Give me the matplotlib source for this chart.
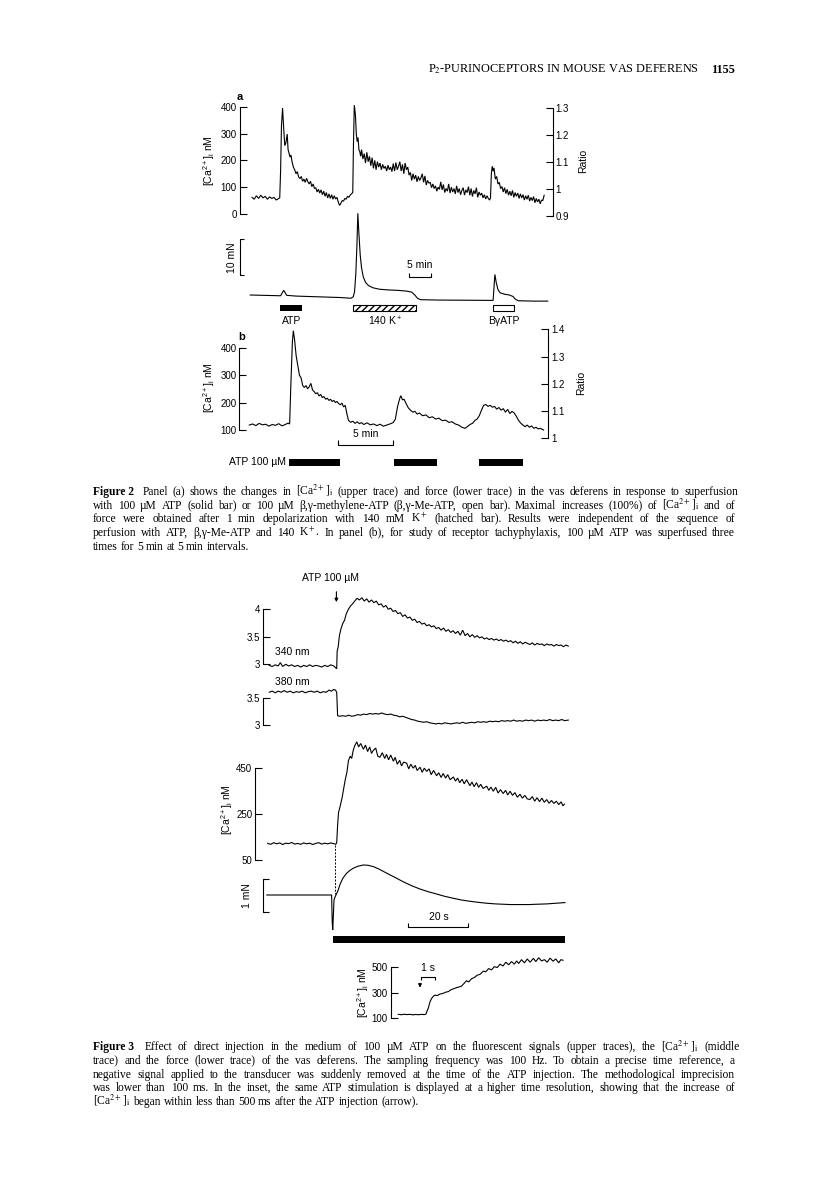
import matplotlib
matplotlib.use("Agg")
import matplotlib.pyplot as plt
from matplotlib.backends.backend_agg import get_hinting_flag

W, H = 816, 1200
SANS = ["Liberation Sans", "DejaVu Sans"]
SERIF = ["Liberation Serif", "DejaVu Serif"]

plt.rcParams["font.family"] = SANS
plt.rcParams["mathtext.fontset"] = "custom"
plt.rcParams["mathtext.rm"] = "Liberation Sans"
plt.rcParams["mathtext.it"] = "Liberation Sans:italic"
plt.rcParams["mathtext.bf"] = "Liberation Sans:bold"

CA_LABEL = r"[Ca$^{2+}$]$_\mathrm{i}$ nM"

# ---- Figure 2a: [Ca2+]i (nM) against time (min)
A_CA_T = [0.0, 0.5, 1.0, 1.5, 2.0, 2.5, 3.0, 3.5, 4.0, 4.5, 5.0, 5.5, 6.0, 6.3,
          6.5, 6.7, 6.95, 7.2, 7.45, 7.7, 8.0, 8.2, 8.45, 8.65, 8.85, 9.1, 9.4, 9.7,
          10.0, 10.3, 10.6, 10.9, 11.2, 11.5, 11.8, 12.1, 12.4, 12.7, 13.0, 13.3,
          13.6, 13.9, 14.2, 14.5, 14.8, 15.1, 15.4, 15.7, 16.0, 16.3, 16.6, 16.9,
          17.2, 17.5, 17.8, 18.1, 18.4, 18.7, 19.0, 19.3, 19.6, 19.9, 20.2, 20.5,
          20.8, 21.1, 21.4, 21.7, 22.0, 22.3, 22.6, 22.9, 23.05, 23.25, 23.5, 23.7,
          23.9, 24.1, 24.3, 24.5, 24.7, 24.9, 25.2, 25.5, 25.8, 26.1, 26.4, 26.7,
          27.0, 27.3, 27.6, 27.9, 28.2, 28.5, 28.8, 29.1, 29.4, 29.7, 30.0, 30.3,
          30.6, 30.9, 31.2, 31.5, 31.8, 32.1, 32.4, 32.7, 33.0, 33.3, 33.6, 33.9,
          34.2, 34.5, 34.8, 35.1, 35.4, 35.7, 36.0, 36.3, 36.6, 36.9, 37.2, 37.5,
          37.8, 38.1, 38.4, 38.7, 39.0, 39.3, 39.6, 39.9, 40.2, 40.5, 40.8, 41.1,
          41.4, 41.7, 42.0, 42.3, 42.6, 42.9, 43.2, 43.5, 43.8, 44.1, 44.4, 44.7,
          45.0, 45.3, 45.6, 45.9, 46.2, 46.5, 46.8, 47.1, 47.4, 47.7, 48.0, 48.3,
          48.6, 48.9, 49.2, 49.5, 49.8, 50.1, 50.4, 50.7, 51.0, 51.3, 51.6, 51.9,
          52.2, 52.5, 52.8, 53.1, 53.4, 53.7, 54.0, 54.2, 54.4, 54.6, 54.8, 55.0,
          55.3, 55.6, 55.9, 56.2, 56.5, 56.8, 57.1, 57.4, 57.7, 58.0, 58.3, 58.6,
          58.9, 59.2, 59.5, 59.8, 60.1, 60.4, 60.7, 61.0, 61.3, 61.6, 61.9, 62.2,
          62.5, 62.8, 63.1, 63.4, 63.7, 64.0, 64.3, 64.6, 64.9, 65.2, 65.5, 65.8,
          66.1, 66.4]
A_CA_V = [62, 55, 68, 58, 70, 60, 66, 55, 64, 58, 62, 52, 57, 60,
          160, 330, 395, 320, 255, 265, 298, 240, 225, 212, 220, 195, 175, 165,
          150, 158, 138, 132, 140, 122, 130, 118, 133, 120, 112, 122,
          102, 112, 95, 98, 82, 92, 78, 90, 72, 85, 66, 80,
          60, 75, 58, 72, 55, 68, 56, 62, 45, 32, 40, 50,
          48, 58, 55, 66, 62, 70, 75, 80, 250, 406, 370, 300,
          270, 285, 240, 232, 215, 240, 205, 225, 190, 230, 195, 215,
          180, 210, 170, 200, 165, 195, 175, 190, 165, 185, 170, 178,
          160, 182, 165, 175, 158, 188, 160, 192, 165, 178, 195, 160,
          185, 150, 190, 165, 175, 145, 155, 125, 150, 130, 145, 120,
          140, 125, 135, 150, 118, 142, 108, 125, 115, 118, 98, 112,
          95, 105, 85, 100, 92, 120, 90, 110, 80, 95, 85, 112,
          78, 100, 82, 95, 75, 105, 80, 95, 72, 88, 98, 70,
          90, 80, 102, 70, 95, 65, 88, 75, 98, 62, 82, 70,
          78, 60, 72, 56, 68, 58, 52, 60, 150, 178, 160, 172,
          130, 140, 112, 118, 95, 102, 82, 98, 76, 92, 70, 85,
          68, 88, 62, 80, 66, 78, 58, 75, 60, 72, 52, 68,
          55, 70, 48, 62, 50, 65, 42, 58, 45, 55, 38, 52,
          50, 70]

# ---- Figure 2a: force (mN above starting tone)
A_F_T = [-0.4, 6.0, 6.5, 7.2, 7.9, 10.0, 15.0, 20.0, 22.5, 23.0, 23.3, 23.6,
         23.85, 24.05, 24.3, 24.6, 24.9, 25.3, 25.8, 26.5, 27.5, 29.0, 31.0,
         33.0, 35.0, 36.3, 37.0, 37.6, 38.3, 42.0, 48.0, 54.8, 55.05, 55.2,
         55.5, 55.9, 56.4, 57.5, 58.5, 59.3, 59.9, 60.5, 64.0, 67.2]
A_F_V = [0.0, -0.2, -0.2, 1.3, -0.1, -0.3, -0.5, -0.7, -0.9, -0.5, 0.8, 6.0,
         14.0, 22.7, 17.0, 11.0, 7.5, 5.0, 3.5, 2.6, 2.0, 1.6, 1.4,
         1.3, 1.1, 0.8, 0.0, -0.9, -1.3, -1.4, -1.45, -1.5, 3.0, 5.7,
         3.5, 1.5, 0.6, 0.2, 0.0, -0.4, -1.2, -1.6, -1.7, -1.7]

A_BAR_START = [6.4, 23.0, 54.8]
A_BAR_END = [11.4, 37.3, 59.5]
A_BAR_LABELS = ["ATP", "140 K$^+$", "BγATP"]

# ---- Figure 2b: [Ca2+]i (nM) against time (min)
B_CA_T = [0.0, 0.3, 0.6, 0.9, 1.2, 1.5, 1.8, 2.1, 2.4, 2.7, 3.0, 3.3, 3.55, 3.7,
          3.8, 3.95, 4.04, 4.15, 4.3, 4.45, 4.6, 4.75, 4.9, 5.05, 5.2, 5.35, 5.5,
          5.65, 5.8, 5.95, 6.1, 6.25, 6.4, 6.55, 6.7, 6.85, 7.0, 7.15, 7.3, 7.45,
          7.6, 7.75, 7.9, 8.05, 8.2, 8.35, 8.5, 8.65, 8.8, 8.95, 9.1, 9.3, 9.5,
          9.7, 9.9, 10.1, 10.3, 10.5, 10.8, 11.1, 11.4, 11.7, 12.0, 12.3, 12.6,
          12.9, 13.2, 13.4, 13.6, 13.8, 13.9, 14.05, 14.2, 14.4, 14.6, 14.8, 15.0,
          15.2, 15.4, 15.6, 15.9, 16.2, 16.5, 16.8, 17.1, 17.4, 17.7, 18.0, 18.3,
          18.6, 18.9, 19.2, 19.5, 19.8, 20.0, 20.25, 20.5, 20.7, 20.9, 21.1, 21.3,
          21.5, 21.7, 21.9, 22.1, 22.3, 22.5, 22.7, 22.9, 23.1, 23.3, 23.5, 23.7,
          23.9, 24.1, 24.3, 24.5, 24.7, 24.9, 25.1, 25.3, 25.5, 25.7, 25.9, 26.1,
          26.3, 26.5, 26.7, 27.0]
B_CA_V = [118, 122, 116, 124, 119, 121, 114, 120, 117, 123, 115, 120, 125, 122,
          250, 420, 462, 430, 370, 335, 300, 290, 262, 255, 262, 250, 258,
          270, 246, 240, 232, 236, 224, 230, 218, 222, 212, 216, 208, 212,
          204, 208, 200, 204, 196, 192, 198, 184, 190, 160, 135, 128, 132,
          124, 130, 123, 127, 120, 126, 119, 122, 116, 121, 114, 118,
          122, 127, 140, 185, 215, 225, 210, 212, 195, 180, 172, 165,
          168, 158, 162, 152, 155, 145, 148, 140, 143, 134, 136, 128,
          130, 122, 118, 110, 106, 112, 120, 125, 135, 140, 152, 172,
          190, 193, 186, 190, 183, 186, 176, 182, 172, 178, 165, 175,
          160, 168, 162, 150, 135, 125, 118, 112, 118, 110, 115, 106,
          110, 104, 106, 100]

B_BAR_START = [3.64, 13.3, 21.1]
B_BAR_END = [8.32, 17.2, 25.1]

# ---- Figure 3: fluorescence at 340 and 380 nm against time (s)
F340_T = [-22.5, -21.5, -20.5, -19.5, -18.8, -18.0, -17.0, -16.0, -15.0, -14.0,
          -13.0, -12.0, -11.0, -10.0, -9.0, -8.0, -7.0, -6.0, -5.0, -4.0, -3.0,
          -2.0, -1.0, -0.4, 0.0, 0.15, 0.5, 0.9, 1.4, 2.0, 2.6, 3.2, 3.9, 4.6,
          5.3, 6.0, 6.8, 7.6, 8.4, 9.2, 10.0, 10.8, 11.6, 12.4, 13.2, 14.0, 14.8,
          15.6, 16.4, 17.2, 18.0, 18.8, 19.6, 20.4, 21.2, 22.0, 22.8, 23.6, 24.4,
          25.2, 26.0, 26.8, 27.6, 28.4, 29.2, 30.0, 30.8, 31.6, 32.4, 33.2, 34.0,
          34.8, 35.6, 36.4, 37.2, 38.0, 38.8, 39.6, 40.4, 41.2, 42.0, 42.8, 43.6,
          44.4, 45.2, 46.0, 46.8, 47.6, 48.4, 49.2, 50.0, 50.8, 51.6, 52.4, 53.2,
          54.0, 54.8, 55.6, 56.4, 57.2, 58.0, 58.8, 59.6, 60.4, 61.2, 62.0, 62.8,
          63.6, 64.4, 65.2, 66.0, 66.8, 67.6, 68.4, 69.2, 70.0, 70.8, 71.6, 72.4,
          73.2, 74.0, 74.8, 75.6, 76.4, 77.2]
F340_V = [2.98, 2.96, 2.99, 2.97, 3.03, 2.96, 3.0, 2.97, 2.99, 2.96,
          2.98, 2.95, 2.98, 2.96, 2.99, 2.96, 2.98, 2.97, 2.95, 2.98, 2.96,
          2.99, 2.97, 2.94, 2.92, 3.24, 3.32, 3.52, 3.64, 3.74, 3.8, 3.92, 4.0, 4.06,
          4.1, 4.15, 4.2, 4.17, 4.21, 4.15, 4.19, 4.13, 4.17, 4.12, 4.15, 4.08, 4.1,
          4.04, 4.07, 4.0, 4.02, 3.96, 3.98, 3.92, 3.94, 3.87, 3.9, 3.84, 3.86,
          3.8, 3.82, 3.76, 3.78, 3.73, 3.75, 3.7, 3.72, 3.68, 3.7, 3.65, 3.67,
          3.62, 3.66, 3.6, 3.63, 3.58, 3.61, 3.56, 3.6, 3.53, 3.62, 3.52, 3.56,
          3.5, 3.54, 3.49, 3.52, 3.48, 3.5, 3.46, 3.48, 3.45, 3.47, 3.44, 3.46,
          3.43, 3.45, 3.42, 3.44, 3.41, 3.43, 3.39, 3.42, 3.38, 3.41, 3.37, 3.4,
          3.38, 3.36, 3.39, 3.35, 3.38, 3.36, 3.37, 3.34, 3.37, 3.35, 3.36, 3.33,
          3.36, 3.34, 3.35, 3.32, 3.35, 3.33]

F380_T = [-22.5, -21.5, -20.5, -19.5, -18.5, -17.5, -16.5, -15.5, -14.5, -13.5,
          -12.5, -11.5, -10.5, -9.5, -8.5, -7.5, -6.5, -5.5, -4.5, -3.5, -2.5,
          -1.8, -1.0, -0.4, 0.0, 0.3, 1.0, 2.0, 3.0, 4.0, 5.0, 6.0, 7.0, 8.0, 9.0,
          10.0, 11.0, 12.0, 13.0, 14.0, 15.0, 16.0, 17.0, 18.0, 19.0, 20.0, 21.0,
          22.0, 23.0, 24.0, 25.0, 26.0, 27.0, 28.0, 29.0, 30.0, 31.0, 32.0, 33.0,
          34.0, 35.0, 36.0, 37.0, 38.0, 39.0, 40.0, 41.0, 42.0, 43.0, 44.0, 45.0,
          46.0, 47.0, 48.0, 49.0, 50.0, 51.0, 52.0, 53.0, 54.0, 55.0, 56.0, 57.0,
          58.0, 59.0, 60.0, 61.0, 62.0, 63.0, 64.0, 65.0, 66.0, 67.0, 68.0, 69.0,
          70.0, 71.0, 72.0, 73.0, 74.0, 75.0, 76.0, 77.2]
F380_V = [3.6, 3.62, 3.59, 3.62, 3.6, 3.63, 3.6, 3.62, 3.59, 3.61,
          3.6, 3.62, 3.59, 3.61, 3.62, 3.6, 3.62, 3.59, 3.61, 3.6, 3.64,
          3.62, 3.65, 3.64, 3.6, 3.17, 3.16, 3.17, 3.16, 3.18, 3.16, 3.17, 3.19, 3.18, 3.2,
          3.19, 3.21, 3.2, 3.21, 3.2, 3.22, 3.2, 3.19, 3.2, 3.18, 3.17, 3.15,
          3.16, 3.14, 3.12, 3.1, 3.09, 3.07, 3.06, 3.05, 3.06, 3.04, 3.03, 3.02,
          3.03, 3.02, 3.04, 3.03, 3.02, 3.03, 3.04, 3.03, 3.05, 3.03, 3.04, 3.05,
          3.04, 3.06, 3.05, 3.06, 3.05, 3.07, 3.06, 3.07, 3.06, 3.08, 3.07, 3.08,
          3.07, 3.09, 3.07, 3.08, 3.07, 3.09, 3.08, 3.09, 3.07, 3.09, 3.08, 3.09,
          3.08, 3.1, 3.08, 3.09, 3.08, 3.1, 3.08, 3.09]

# ---- Figure 3: [Ca2+]i (nM) against time (s)
F3_CA_T = [-23.0, -22.0, -21.0, -20.0, -19.0, -18.0, -17.0, -16.0, -15.0, -14.0,
           -13.0, -12.0, -11.0, -10.0, -9.0, -8.0, -7.0, -6.0, -5.0, -4.0, -3.0,
           -2.0, -1.0, -0.3, 0.0, 0.3, 0.6, 1.1, 1.8, 2.4, 2.8, 3.4, 3.9, 4.5, 5.0,
           5.5, 6.0, 6.7, 7.3, 8.0, 8.9, 9.6, 10.3, 11.0, 11.6, 12.2, 13.0, 13.7,
           14.4, 15.2, 16.0, 16.6, 17.3, 18.0, 18.9, 19.5, 20.2, 21.0, 21.6, 22.3,
           23.3, 24.0, 24.7, 25.5, 26.2, 26.8, 27.8, 28.5, 29.2, 30.0, 30.8, 31.5,
           32.3, 33.3, 34.0, 34.8, 35.5, 36.3, 37.0, 37.8, 38.9, 39.6, 40.3, 41.0,
           41.8, 42.5, 43.3, 44.4, 45.1, 45.8, 46.6, 47.3, 48.0, 48.8, 50.0, 50.7,
           51.4, 52.2, 53.0, 53.8, 54.6, 55.5, 56.3, 57.0, 57.8, 58.6, 59.4, 60.2,
           61.1, 61.9, 62.7, 63.5, 64.4, 65.2, 66.0, 66.8, 67.6, 68.4, 69.2, 70.0,
           70.8, 71.6, 72.4, 73.2, 74.0, 74.8, 75.4, 75.9]
F3_CA_V = [122, 118, 125, 120, 124, 117, 123, 121, 126, 119,
           122, 118, 124, 120, 123, 117, 122, 125, 119, 123, 120,
           124, 121, 118, 125, 200, 255, 280, 320, 365, 395, 430, 480, 500, 490,
           525, 545, 562, 540, 555, 530, 548, 520, 540, 512, 525, 535, 500,
           495, 515, 490, 508, 484, 505, 478, 495, 465, 482, 458, 474,
           470, 445, 465, 448, 460, 438, 452, 430, 448, 434, 445, 420,
           438, 415, 428, 408, 425, 405, 420, 398, 410, 392, 405, 385,
           400, 380, 398, 372, 388, 368, 385, 365, 378, 360, 370, 352,
           366, 348, 365, 340, 355, 338, 352, 332, 348, 330, 342, 322,
           335, 318, 330, 315, 312, 325, 305, 320, 303, 318, 300, 312,
           296, 308, 295, 305, 290, 302, 285, 292]

# ---- Figure 3: force (mN above resting tone) against time (s)
F3_F_T = [-23.3, -1.7, -1.5, -1.33, -1.1, -0.9, -0.5, 0.0, 0.5, 1.1, 2.0, 3.3,
          4.5, 5.5, 7.0, 8.9, 10.5, 12.2, 14.0, 16.7, 19.5, 22.2, 25.0, 27.8,
          30.5, 33.3, 36.0, 38.9, 41.5, 44.4, 47.0, 50.0, 53.0, 55.5, 58.0, 61.1,
          64.0, 66.7, 70.0, 73.0, 76.1]
F3_F_V = [0.0, 0.0, -0.8, -1.06, -0.6, -0.15, -0.05, 0.05, 0.15, 0.32, 0.5, 0.66,
          0.75, 0.81, 0.87, 0.91, 0.9, 0.86, 0.79, 0.66, 0.53, 0.40, 0.28, 0.18,
          0.10, 0.03, -0.04, -0.10, -0.15, -0.19, -0.22, -0.25, -0.27, -0.28, -0.29, -0.29,
          -0.29, -0.28, -0.27, -0.25, -0.23]

F3_BAR_START = -1.33
F3_BAR_END = 76.1

# ---- Figure 3 inset: [Ca2+]i (nM) against time (s)
INSET_T = [-1.52, -1.3, -1.1, -0.9, -0.7, -0.5, -0.3, -0.1, 0.1, 0.3, 0.42, 0.5,
           0.58, 0.7, 0.82, 0.95, 1.05, 1.2, 1.4, 1.6, 1.8, 2.0, 2.1, 2.3, 2.5,
           2.7, 2.9, 3.05, 3.26, 3.4, 3.6, 3.8, 4.0, 4.2, 4.43, 4.6, 4.8, 5.0,
           5.2, 5.4, 5.6, 5.8, 6.0, 6.2, 6.4, 6.6, 6.76, 6.9, 7.1, 7.3, 7.5, 7.7,
           7.93, 8.1, 8.3, 8.5, 8.7, 8.9, 9.09, 9.3, 9.5, 9.7, 9.85, 10.0]
INSET_V = [131, 128, 132, 129, 131, 127, 130, 128, 131, 129, 133, 160,
           180, 230, 257, 275, 282, 278, 290, 295, 305, 310, 320, 330, 338,
           345, 352, 370, 395, 385, 410, 420, 438, 445, 470, 465, 490, 480,
           505, 498, 525, 510, 540, 520, 545, 525, 550, 530, 560, 535, 565, 540,
           570, 545, 575, 550, 560, 540, 572, 548, 565, 535, 560, 555]

CAPTION_2 = [
    r"Panel (a) shows the changes in [Ca$^{2+}$]$_\mathrm{i}$ (upper trace) and force (lower trace) in the vas deferens in response to superfusion",
    r"with 100 µM ATP (solid bar) or 100 µM β,γ-methylene-ATP (β,γ-Me-ATP, open bar). Maximal increases (100%) of [Ca$^{2+}$]$_\mathrm{i}$ and of",
    r"force were obtained after 1 min depolarization with 140 mM K$^+$ (hatched bar). Results were independent of the sequence of",
    r"perfusion with ATP, β,γ-Me-ATP and 140 K$^+$. In panel (b), for study of receptor tachyphylaxis, 100 µM ATP was superfused three",
    r"times for 5 min at 5 min intervals.",
]
CAPTION_3 = [
    r"Effect of direct injection in the medium of 100 µM ATP on the fluorescent signals (upper traces), the [Ca$^{2+}$]$_\mathrm{i}$ (middle",
    r"trace) and the force (lower trace) of the vas deferens. The sampling frequency was 100 Hz. To obtain a precise time reference, a",
    r"negative signal applied to the transducer was suddenly removed at the time of the ATP injection. The methodological imprecision",
    r"was lower than 100 ms. In the inset, the same ATP stimulation is displayed at a higher time resolution, showing that the increase of",
    r"[Ca$^{2+}$]$_\mathrm{i}$ began within less than 500 ms after the ATP injection (arrow).",
]

TICK_FS = 7
LABEL_FS = 7.5
LW = 0.8
TRACE_LW = 0.8

fig = plt.figure(figsize=(W / 100, H / 100), dpi=100)


def span(p, pa, va, pb, vb):
    # value at pixel p for an axis calibrated by two (pixel, value) pairs
    return va + (p - pa) * (vb - va) / (pb - pa)


def add_ax(x0, y0, x1, y1, xcal, ycal=None):
    ax = fig.add_axes([x0 / W, 1 - y1 / H, (x1 - x0) / W, (y1 - y0) / H])
    ax.patch.set_alpha(0)
    for s in ax.spines.values():
        s.set_visible(False)
        s.set_linewidth(LW)
    ax.set_xticks([])
    ax.set_yticks([])
    ax.set_xlim(span(x0, *xcal), span(x1, *xcal))
    if ycal is not None:
        ax.set_ylim(span(y1, *ycal), span(y0, *ycal))
    return ax


def spine_axis(ax, side, lo, hi, ticks, labels):
    ax.spines[side].set_visible(True)
    ax.spines[side].set_bounds(lo, hi)
    ax.set_yticks(ticks)
    ax.set_yticklabels(labels)
    ax.tick_params(axis="y", which="both", direction="in", length=5, width=LW,
                   pad=2, labelsize=TICK_FS,
                   left=(side == "left"), labelleft=(side == "left"),
                   right=(side == "right"), labelright=(side == "right"))


def trace(ax, t, v, lw=TRACE_LW):
    ax.plot(t, v, color="k", lw=lw, clip_on=False, solid_joinstyle="miter")


def ftext(x, y, s, **kw):
    return fig.text(x / W, 1 - y / H, s, **kw)


def bracket(ax, xs, ys, **kw):
    ax.plot(xs, ys, color="k", lw=LW, clip_on=False, solid_capstyle="butt", **kw)


def snapped_y(renderer, t, base):
    # Agg rounds each word's bitmap to whole pixels using that word's own
    # descent; shift the word so that all baselines land on row `base`
    s = t.get_text()
    if "$" in s:
        return base
    font = renderer._prepare_font(t.get_fontproperties())
    font.set_text(s, 0, flags=get_hinting_flag())
    _, h26 = font.get_width_height()
    desc = font.get_descent()
    k = base + h26 // 64 - (h26 - desc) // 64
    return k - desc / 64.0


def justify(lines, lead, x0, x1, base_y, lead_px, fs):
    renderer = fig.canvas.get_renderer()
    kw = dict(fontsize=fs, family=SERIF, math_fontfamily="stix", va="baseline")
    for i, line in enumerate(lines):
        y = round(base_y + i * lead_px)
        items = []
        if i == 0:
            items.append(ftext(0, y, lead, fontweight="bold", **kw))
        items += [ftext(0, y, w, **kw) for w in line.split(" ")]
        widths = [t.get_window_extent(renderer).width for t in items]
        if i < len(lines) - 1:
            gap = (x1 - x0 - sum(widths)) / (len(items) - 1)
        else:
            gap = fs * 100 / 72 * 0.25
        x = x0
        for j, (t, w) in enumerate(zip(items, widths)):
            try:
                yy = snapped_y(renderer, t, y)
            except Exception:
                yy = y
            t.set_position((x / W, 1 - yy / H))
            x += w + gap + (gap * 0.8 if (i == 0 and j == 0) else 0)


# ---------------- running head
ftext(428, 73, "P$_2$-PURINOCEPTORS IN MOUSE VAS DEFERENS", fontsize=8.8,
      family=SERIF, math_fontfamily="stix", va="baseline")
ftext(735, 73, "1155", fontsize=8.8, family=SERIF, fontweight="bold",
      ha="right", va="baseline")

# ---------------- Figure 2a
XA = (252, 0.0, 256.4, 1.0)            # 4.4 px per min
ax = add_ax(239.5, 104, 553, 216, XA, (214, 0, 106.7, 400))
trace(ax, A_CA_T, A_CA_V)
spine_axis(ax, "left", 0, 400, [0, 100, 200, 300, 400], ["0", "100", "200", "300", "400"])
axr = ax.twinx()
axr.patch.set_alpha(0)
for s in axr.spines.values():
    s.set_visible(False)
    s.set_linewidth(LW)
axr.set_ylim(span(216, 216, 0.9, 108.3, 1.3), span(104, 216, 0.9, 108.3, 1.3))
spine_axis(axr, "right", 0.9, 1.3, [0.9, 1.0, 1.1, 1.2, 1.3], ["0.9", "1", "1.1", "1.2", "1.3"])
ftext(240, 97, "a", fontsize=8, fontweight="bold", ha="center", va="center")
ftext(209, 161, CA_LABEL, fontsize=LABEL_FS, rotation=90, ha="center", va="center")
ftext(583, 161, "Ratio", fontsize=LABEL_FS, rotation=90, ha="center", va="center")

axf = add_ax(239.5, 205, 553, 305, XA, (295, 0, 291.4, 1))   # 3.6 px per mN
trace(axf, A_F_T, A_F_V)
x_l = axf.get_xlim()[0]
bracket(axf, [x_l + 1.0, x_l, x_l, x_l + 1.0], [15.5, 15.5, 5.5, 5.5])
axf.text(x_l - 1.8, 10.5, "10 mN", fontsize=LABEL_FS, rotation=90, ha="center",
         va="center", clip_on=False)
bracket(axf, [35.7, 35.7, 40.7, 40.7], [6.1, 5.0, 5.0, 6.1])
axf.text(38.2, 8.4, "5 min", fontsize=LABEL_FS, ha="center", va="center")

axb = add_ax(239.5, 300, 553, 330, XA)
axb.set_ylim(30, 0)
styles = [dict(color="k"),
          dict(facecolor="white", edgecolor="k", hatch="/////", lw=LW),
          dict(facecolor="white", edgecolor="k", lw=LW)]
for s0, s1, lab, st in zip(A_BAR_START, A_BAR_END, A_BAR_LABELS, styles):
    axb.bar(s0, 6.5, width=s1 - s0, bottom=4.5, align="edge", **st)
    axb.text((s0 + s1) / 2, 21, lab, fontsize=LABEL_FS, ha="center", va="center")

# ---------------- Figure 2b
XB = (249.3, 0.0, 260.2, 1.0)          # 10.9 px per min
ax2 = add_ax(239.3, 329.3, 548.3, 438.3, XB, (430, 100, 347.7, 400))
trace(ax2, B_CA_T, B_CA_V)
spine_axis(ax2, "left", 100, 400, [100, 200, 300, 400], ["100", "200", "300", "400"])
ax2r = ax2.twinx()
ax2r.patch.set_alpha(0)
for s in ax2r.spines.values():
    s.set_visible(False)
    s.set_linewidth(LW)
ax2r.set_ylim(1.0, 1.4)
spine_axis(ax2r, "right", 1.0, 1.4, [1.0, 1.1, 1.2, 1.3, 1.4], ["1", "1.1", "1.2", "1.3", "1.4"])
ftext(242, 337, "b", fontsize=8, fontweight="bold", ha="center", va="center")
ftext(209, 388, CA_LABEL, fontsize=LABEL_FS, rotation=90, ha="center", va="center")
ftext(581, 383, "Ratio", fontsize=LABEL_FS, rotation=90, ha="center", va="center")
bracket(ax2, [8.17, 8.17, 13.15, 13.15], [63, 45, 45, 63])
ax2.text(10.66, 84, "5 min", fontsize=LABEL_FS, ha="center", va="center")

ax2b = add_ax(239.3, 450, 548.3, 475, XB)
ax2b.set_ylim(25, 0)
for s0, s1 in zip(B_BAR_START, B_BAR_END):
    ax2b.bar(s0, 7, width=s1 - s0, bottom=8.8, align="edge", color="k")
ax2b.text(B_BAR_START[0] - 0.3, 12.3, "ATP 100 µM", fontsize=LABEL_FS, ha="right",
          va="center")

justify(CAPTION_2, "Figure 2", 93, 735, 495, 13.75, 8.3)

# ---------------- Figure 3
X3 = (336.7, 0.0, 339.7, 1.0)          # 3 px per s
a340 = add_ax(263.3, 572, 570, 670, X3, (664.3, 3.0, 609.3, 4.0))
trace(a340, F340_T, F340_V)
spine_axis(a340, "left", 3.0, 4.0, [3.0, 3.5, 4.0], ["3", "3.5", "4"])
a340.text(-20.5, 3.23, "340 nm", fontsize=LABEL_FS, ha="left", va="center")
a340.text(-1.9, 4.57, "ATP 100 µM", fontsize=LABEL_FS, ha="center", va="center")
a340.annotate("", xy=(-0.1, 4.08), xytext=(-0.1, 4.37),
              arrowprops=dict(arrowstyle="-|>", lw=0.8, color="k", mutation_scale=5))

a380 = add_ax(263.3, 672, 570, 730, X3, (725, 3.0, 697.7, 3.5))
trace(a380, F380_T, F380_V)
spine_axis(a380, "left", 3.0, 3.5, [3.0, 3.5], ["3", "3.5"])
a380.text(-20.5, 3.79, "380 nm", fontsize=LABEL_FS, ha="left", va="center")

aca = add_ax(255, 738, 570, 862, X3, (860, 50, 767.7, 450))
trace(aca, F3_CA_T, F3_CA_V)
spine_axis(aca, "left", 50, 450, [50, 250, 450], ["50", "250", "450"])
ftext(227, 810, CA_LABEL, fontsize=LABEL_FS, rotation=90, ha="center", va="center")

afo = add_ax(263.3, 858, 570, 935, X3, (895, 0.0, 862, 1.0))   # 33 px per mN
trace(afo, F3_F_T, F3_F_V)
x_l = afo.get_xlim()[0]
bracket(afo, [x_l + 2, x_l, x_l, x_l + 2], [0.48, 0.48, -0.52, -0.52])
afo.text(x_l - 5.5, -0.03, "1 mN", fontsize=LABEL_FS, rotation=90, ha="center",
         va="center", clip_on=False)
afo.plot([-0.45, -0.45], [1.52, 0.02], color="k", lw=0.7, ls=(0, (2, 1.5)), clip_on=False)
bracket(afo, [23.9, 23.9, 43.9, 43.9], [-0.86, -0.97, -0.97, -0.86])
afo.text(33.9, -0.68, "20 s", fontsize=LABEL_FS, ha="center", va="center")

abar = add_ax(263.3, 930, 570, 948, X3)
abar.set_ylim(18, 0)
abar.bar(F3_BAR_START, 6.7, width=F3_BAR_END - F3_BAR_START, bottom=6,
         align="edge", color="k")

XI = (420, 0.0, 434.3, 1.0)            # 14.3 px per s
ains = add_ax(390.7, 960, 570, 1021, XI, (1018.3, 100, 967.3, 500))
trace(ains, INSET_T, INSET_V)
spine_axis(ains, "left", 100, 500, [100, 300, 500], ["100", "300", "500"])
ftext(363, 993, CA_LABEL, fontsize=LABEL_FS, rotation=90, ha="center", va="center")
bracket(ains, [0.05, 0.05, 1.05, 1.05], [400, 426, 426, 400])
ains.text(0.55, 492, "1 s", fontsize=LABEL_FS, ha="center", va="center")
ains.annotate("", xy=(0.0, 318), xytext=(0.0, 396),
              arrowprops=dict(arrowstyle="-|>", lw=0.8, color="k", mutation_scale=5))

justify(CAPTION_3, "Figure 3", 93, 735, 1050, 13.75, 8.3)

fig.savefig("out.png", dpi=100)
